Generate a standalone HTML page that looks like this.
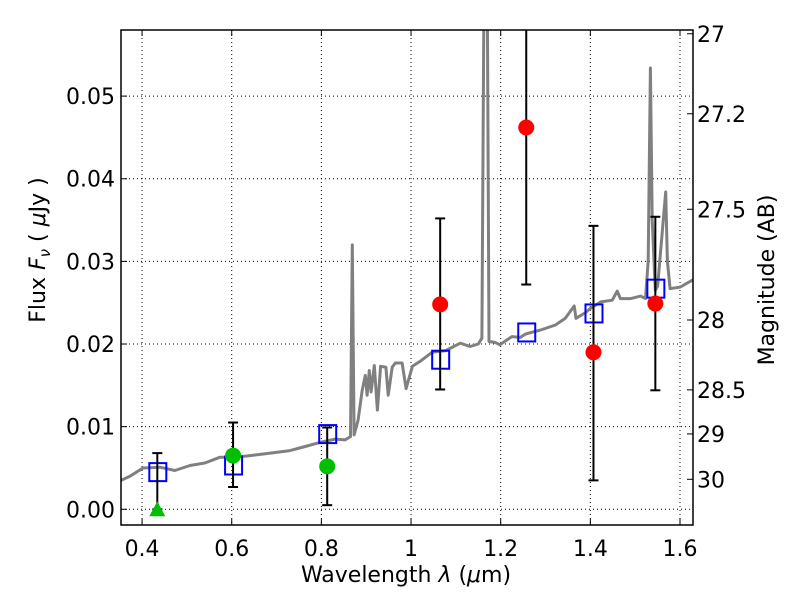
<!DOCTYPE html>
<html><head><meta charset="utf-8"><style>
body{margin:0;background:#fff}
svg{display:block;font-family:"DejaVu Sans","Liberation Sans",sans-serif}
</style></head><body>
<svg id="chart" width="800" height="600" viewBox="0 0 800 600" xmlns="http://www.w3.org/2000/svg"></svg>
<script>
const specWave=[0.353,0.373,0.402,0.440,0.473,0.507,0.540,0.574,0.607,0.641,0.686,0.730,0.764,0.797,0.831,0.853,0.865,0.869,0.873,0.882,0.891,0.898,0.902,0.907,0.911,0.918,0.925,0.932,0.944,0.949,0.958,0.965,0.980,0.989,1.003,1.020,1.047,1.077,1.110,1.132,1.150,1.158,1.163,1.170,1.174,1.188,1.198,1.214,1.225,1.244,1.255,1.289,1.322,1.344,1.364,1.368,1.389,1.400,1.423,1.449,1.460,1.467,1.490,1.512,1.523,1.529,1.534,1.538,1.545,1.550,1.568,1.572,1.578,1.601,1.630];
const specFlux=[0.0035,0.0040,0.0050,0.0051,0.0047,0.0053,0.0056,0.0063,0.0063,0.0065,0.0068,0.0071,0.0076,0.0081,0.0085,0.0084,0.0088,0.0320,0.0090,0.0108,0.0144,0.0162,0.0138,0.0168,0.0142,0.0174,0.0120,0.0173,0.0172,0.0138,0.0172,0.0177,0.0177,0.0146,0.0173,0.0179,0.0190,0.0192,0.0201,0.0197,0.0200,0.0207,0.0650,0.0650,0.0203,0.0202,0.0199,0.0205,0.0209,0.0208,0.0212,0.0217,0.0223,0.0231,0.0246,0.0231,0.0238,0.0243,0.0251,0.0253,0.0264,0.0255,0.0255,0.0258,0.0255,0.0301,0.0534,0.0350,0.0265,0.0270,0.0384,0.0300,0.0267,0.0269,0.0278];
const modelWave=[0.434,0.603,0.813,1.065,1.257,1.407,1.545];
const modelFlux=[0.0045,0.0053,0.0091,0.0181,0.0214,0.0237,0.0267];
const greenWave=[0.603,0.813];
const greenFlux=[0.0065,0.0052];
const greenLo=[0.0027,0.0005];
const greenHi=[0.0105,0.0099];
const limitWave=[0.434];
const limitFlux=[0.0];
const limitHi=[0.0068];
const redWave=[1.065,1.257,1.407,1.545];
const redFlux=[0.0248,0.0462,0.0190,0.0249];
const redLo=[0.0145,0.0272,0.0035,0.0144];
const redHi=[0.0352,0.0700,0.0343,0.0354];
const xTicks=[0.4,0.6,0.8,1.0,1.2,1.4,1.6];
const xTickLabels=["0.4","0.6","0.8","1","1.2","1.4","1.6"];
const yTicks=[0,0.01,0.02,0.03,0.04,0.05];
const yTickLabels=["0.00","0.01","0.02","0.03","0.04","0.05"];
const magTicks=[27,27.2,27.5,28,28.5,29,30];
const magTickLabels=["27","27.2","27.5","28","28.5","29","30"];

const L=121,R=693,T=30,B=525;
const xmin=0.353,xmax=1.629,ymin=-0.0019,ymax=0.058;
const X=v=>L+(v-xmin)/(xmax-xmin)*(R-L);
const Y=v=>B-(v-ymin)/(ymax-ymin)*(B-T);
const magToFlux=m=>Math.pow(10,(23.9-m)/2.5);
const svg=document.getElementById('chart');
const NS='http://www.w3.org/2000/svg';
function mk(tag,attrs,parent){const e=document.createElementNS(NS,tag);for(const k in attrs)e.setAttribute(k,attrs[k]);(parent||svg).appendChild(e);return e;}

const defs=mk('defs',{});
const cp=mk('clipPath',{id:'clip'},defs);
mk('rect',{x:L,y:T,width:R-L,height:B-T},cp);

const grid=mk('g',{});


xTicks.forEach(v=>{mk('line',{x1:X(v),x2:X(v),y1:T,y2:B,stroke:'#000','stroke-width':1,'stroke-dasharray':'1,3'},grid);});
yTicks.forEach(v=>{mk('line',{x1:L,x2:R,y1:Y(v),y2:Y(v),stroke:'#000','stroke-width':1,'stroke-dasharray':'1,3'},grid);});

const plot=mk('g',{'clip-path':'url(#clip)'});
let d='';specWave.forEach((w,i)=>{d+=(i?'L':'M')+X(w).toFixed(1)+','+Y(specFlux[i]).toFixed(1);});
const sp=mk('path',{d:d,fill:'none',stroke:'#808080','stroke-width':3,'stroke-linejoin':'round'},plot);



modelWave.forEach((w,i)=>{
  const r=mk('rect',{x:X(w)-8,y:Y(modelFlux[i])-9,width:17,height:18,fill:'none',stroke:'#0000ff','stroke-width':2},plot);
  
  
});
function errbar(w,lo,hi){
  const g=mk('g',{},plot);
  
  
  const x=X(w);
  mk('line',{x1:x,x2:x,y1:Y(lo),y2:Y(hi),stroke:'#000','stroke-width':2},g);
  mk('line',{x1:x-5,x2:x+5,y1:Y(lo),y2:Y(lo),stroke:'#000','stroke-width':2},g);
  mk('line',{x1:x-5,x2:x+5,y1:Y(hi),y2:Y(hi),stroke:'#000','stroke-width':2},g);
}
greenWave.forEach((w,i)=>{
  errbar(w,greenLo[i],greenHi[i]);
  const c=mk('circle',{cx:X(w),cy:Y(greenFlux[i]),r:8,fill:'#00c000'},plot);
  
  
});
limitWave.forEach((w,i)=>{
  errbar(w,limitFlux[i],limitHi[i]);
  const x=X(w),y=Y(limitFlux[i]);
  const t=mk('polygon',{points:`${x-8},${y+7} ${x+8},${y+7} ${x},${y-8}`,fill:'#00c000'},plot);
  
  
});
redWave.forEach((w,i)=>{
  errbar(w,redLo[i],redHi[i]);
  const c=mk('circle',{cx:X(w),cy:Y(redFlux[i]),r:8,fill:'#ff0000'},plot);
  
  
});

const fr=mk('rect',{x:L,y:T,width:R-L,height:B-T,fill:'none',stroke:'#000','stroke-width':1.5});



xTicks.forEach((v,i)=>{
  mk('line',{x1:X(v),x2:X(v),y1:B,y2:B-6,stroke:'#000'});
  mk('line',{x1:X(v),x2:X(v),y1:T,y2:T+6,stroke:'#000'});
  const t=mk('text',{x:X(v),y:B+31,'font-size':22,'text-anchor':'middle'});
  t.textContent=xTickLabels[i];
  
  
});
yTicks.forEach((v,i)=>{
  mk('line',{x1:L,x2:L+6,y1:Y(v),y2:Y(v),stroke:'#000'});
  const t=mk('text',{x:L-6,y:Y(v)+8,'font-size':22,'text-anchor':'end'});
  t.textContent=yTickLabels[i];
  
  
});
magTicks.forEach((m,i)=>{
  const y=Y(magToFlux(m));
  mk('line',{x1:R,x2:R-6,y1:y,y2:y,stroke:'#000'});
  const t=mk('text',{x:R+4,y:y+8,'font-size':22,'text-anchor':'start'});
  t.textContent=magTickLabels[i];
  
  
});

const xt=mk('text',{x:406,y:582,'font-size':22,'text-anchor':'middle'});
xt.innerHTML='Wavelength  <tspan font-style="italic">λ</tspan> (<tspan font-style="italic">μ</tspan>m)';


const yt=mk('text',{x:0,y:0,'font-size':22,'text-anchor':'middle',transform:'translate(45,250) rotate(-90)'});
yt.innerHTML='Flux  <tspan font-style="italic">F</tspan><tspan font-style="italic" font-size="15" dy="5">ν</tspan><tspan dy="-5">  (  </tspan><tspan font-style="italic">μ</tspan>Jy )';


const rt=mk('text',{x:0,y:0,'font-size':22,'text-anchor':'middle',transform:'translate(774,280) rotate(-90)'});
rt.textContent='Magnitude (AB)';


</script>
</body></html>
